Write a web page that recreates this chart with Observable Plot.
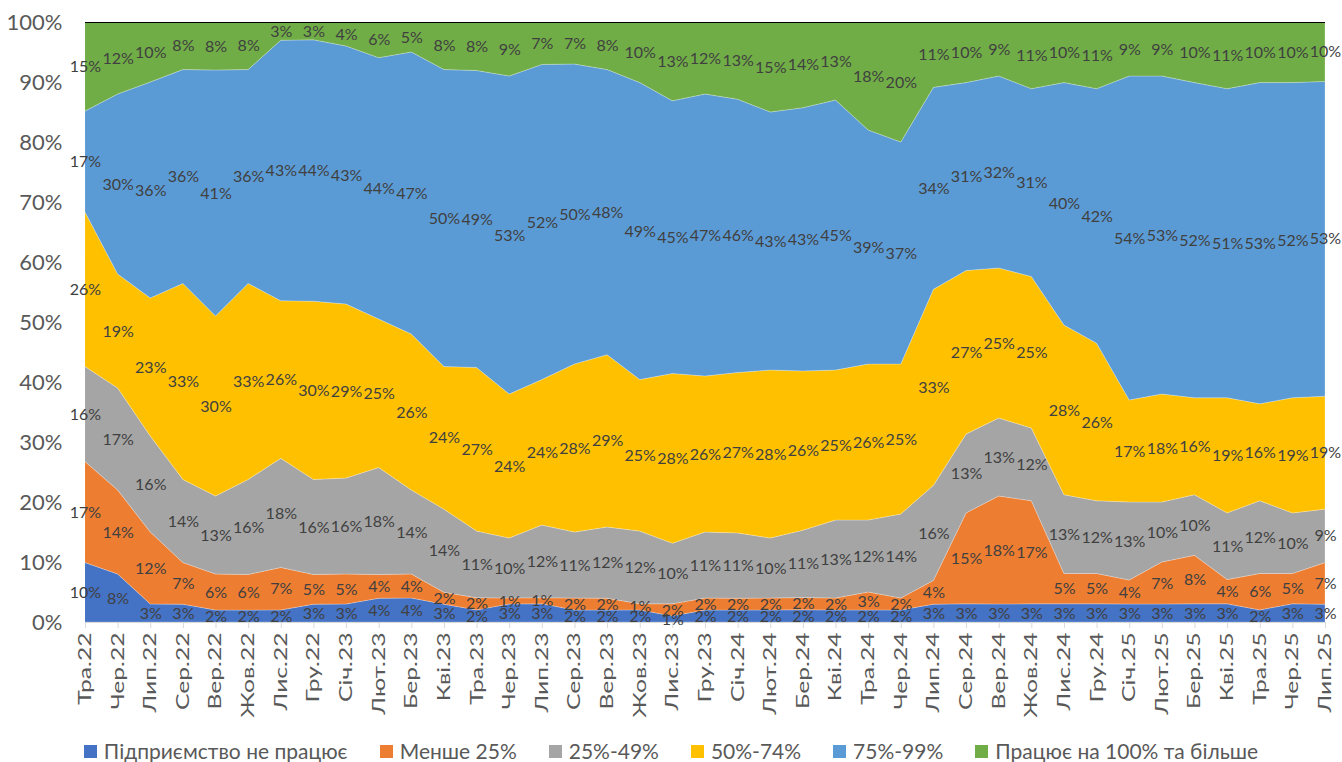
<!DOCTYPE html>
<html><head><meta charset="utf-8">
<script src="https://cdn.jsdelivr.net/npm/d3@7"></script>
<script src="https://cdn.jsdelivr.net/npm/@observablehq/plot@0.6"></script>
<style>
body{margin:0;background:#fff;font-family:Lato,"Open Sans",sans-serif;}
#legend{display:flex;justify-content:center;gap:32px;margin-top:14px;font-size:21px;line-height:24px;color:#595959;}
.item{display:flex;align-items:center;gap:7px;white-space:nowrap}
.sw{width:13px;height:13px;display:inline-block}
</style></head><body>
<div id="chart"></div>
<div id="legend"></div>
<script>
const months = ["Тра.22","Чер.22","Лип.22","Сер.22","Вер.22","Жов.22","Лис.22","Гру.22","Січ.23","Лют.23","Бер.23","Кві.23","Тра.23","Чер.23","Лип.23","Сер.23","Вер.23","Жов.23","Лис.23","Гру.23","Січ.24","Лют.24","Бер.24","Кві.24","Тра.24","Чер.24","Лип.24","Сер.24","Вер.24","Жов.24","Лис.24","Гру.24","Січ.25","Лют.25","Бер.25","Кві.25","Тра.25","Чер.25","Лип.25"];
const series = ["Підприємство не працює","Менше 25%","25%-49%","50%-74%","75%-99%","Працює на 100% та більше"];
const colors = ["#4472C4","#ED7D31","#A5A5A5","#FFC000","#5B9BD5","#70AD47"];
const notWorking = [10,8,3,3,2,2,2,3,3,4,4,3,2,3,3,2,2,2,1,2,2,2,2,2,2,2,3,3,3,3,3,3,3,3,3,3,2,3,3];
const under25    = [17,14,12,7,6,6,7,5,5,4,4,2,2,1,1,2,2,1,2,2,2,2,2,2,3,2,4,15,18,17,5,5,4,7,8,4,6,5,7];
const p25_49     = [16,17,16,14,13,16,18,16,16,18,14,14,11,10,12,11,12,12,10,11,11,10,11,13,12,14,16,13,13,12,13,12,13,10,10,11,12,10,9];
const p50_74     = [26,19,23,33,30,33,26,30,29,25,26,24,27,24,24,28,29,25,28,26,27,28,26,25,26,25,33,27,25,25,28,26,17,18,16,19,16,19,19];
const p75_99     = [17,30,36,36,41,36,43,44,43,44,47,50,49,53,52,50,48,49,45,47,46,43,43,45,39,37,34,31,32,31,40,42,54,53,52,51,53,52,53];
const full100    = [15,12,10,8,8,8,3,3,4,6,5,8,8,9,7,7,8,10,13,12,13,15,14,13,18,20,11,10,9,11,10,11,9,9,10,11,10,10,10];
const valuesBySeries = [notWorking, under25, p25_49, p50_74, p75_99, full100];

const tidy = [];
months.forEach((m, i) => {
  series.forEach((s, k) => tidy.push({i, s, v: valuesBySeries[k][i]}));
});

const stackOpts = {x: "i", y: "v", z: "s", order: series, offset: "normalize"};

const chart = Plot.plot({
  width: 1342,
  height: 725,
  marginLeft: 85,
  marginRight: 17,
  marginTop: 22,
  marginBottom: 103,
  style: {fontFamily: "Lato, 'Open Sans', sans-serif", background: "#fff", overflow: "visible"},
  x: {domain: [0, months.length - 1]},
  y: {domain: [0, 1]},
  color: {domain: series, range: colors},
  marks: [
    Plot.areaY(tidy, {...stackOpts, fill: "s", stroke: "#fff", strokeWidth: 0.4, strokeOpacity: 0.6}),
    Plot.ruleY([0], {stroke: "#d9d9d9"}),
    Plot.ruleY([1], {stroke: "#000", strokeWidth: 1}),
    Plot.text(tidy, Plot.stackY({...stackOpts, text: d => d.v + "%", fill: "#404040", fontSize: 16})),
    Plot.axisY({ticks: d3.range(0, 1.001, 0.1), tickFormat: d => Math.round(d * 100) + "%", tickSize: 0, tickPadding: 23, fontSize: 22, fill: "#595959", label: null}),
    Plot.axisX({ticks: d3.range(months.length), tickFormat: i => months[i], tickRotate: -90, tickSize: 6, tickPadding: 4, fontSize: 17, stroke: "#d9d9d9", fill: "#595959", label: null})
  ]
});
document.getElementById("chart").appendChild(chart);

// stretch x tick labels along their direction to match the reference's narrow, tall lettering
d3.select(chart).selectAll("g[aria-label='x-axis tick label'] text").each(function() {
  const t = this.getAttribute("transform") || "";
  this.setAttribute("transform", t + " scale(1.45,1)");
});

const legend = d3.select("#legend");
series.forEach((s, k) => {
  const it = legend.append("div").attr("class", "item");
  it.append("span").attr("class", "sw").style("background", colors[k]);
  it.append("span").text(s);
});
</script>
</body></html>
